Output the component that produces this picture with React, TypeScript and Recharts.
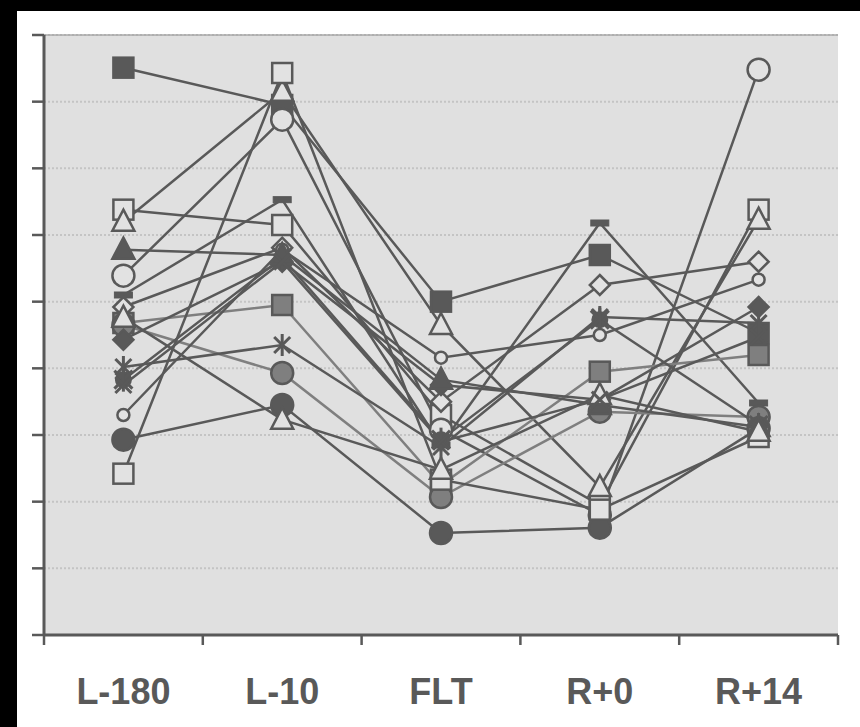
import React from 'react';
import { LineChart, Line, XAxis, YAxis, CartesianGrid, ReferenceLine } from 'recharts';

const CATEGORIES = ['L-180', 'L-10', 'FLT', 'R+0', 'R+14'];
const Y_TICKS = [0, 1, 2, 3, 4, 5, 6, 7, 8, 9];
const X_BOUNDS = [-0.5, 0.5, 1.5, 2.5, 3.5, 4.5];

// one array per subject, values at L-180, L-10, FLT, R+0, R+14
const S01 = [8.51, 7.95, 5.0, 5.7, 4.53];
const S02 = [6.38, 6.15, 3.3, 1.95, 6.38];
const S03 = [6.2, 8.15, 4.65, 2.22, 6.23];
const S04 = [5.39, 7.73, 3.08, 1.8, 8.48];
const S05 = [5.1, 6.53, 2.85, 6.18, 3.48];
const S06 = [4.92, 5.81, 3.5, 5.25, 5.6];
const S07 = [4.68, 4.95, 2.25, 3.95, 4.2];
const S08 = [4.65, 3.93, 2.07, 3.35, 3.27];
const S09 = [4.43, 5.6, 3.75, 3.53, 4.92];
const S10 = [4.02, 4.35, 2.82, 4.77, 4.68];
const S11 = [3.83, 5.66, 2.93, 4.73, 3.15];
const S12 = [3.3, 5.78, 4.16, 4.5, 5.33];
const S13 = [2.93, 3.45, 1.53, 1.61, 3.1];
const S14 = [2.42, 8.43, 2.33, 1.88, 2.97];
const S15 = [5.78, 5.7, 3.83, 3.45, 3.12];
const S16 = [4.76, 3.23, 2.48, 3.6, 3.05];
const S17 = [3.75, 5.6, 2.9, 3.53, 4.47];

const DARK = '#595959';
const GREY = '#7f7f7f';
const OPEN = '#e2e2e2';

const SERIES = [
  { key: 's01', values: S01, shape: 'square', fill: DARK, line: DARK },
  { key: 's02', values: S02, shape: 'square', fill: OPEN, line: DARK },
  { key: 's03', values: S03, shape: 'triangle', fill: OPEN, line: DARK },
  { key: 's04', values: S04, shape: 'circle', fill: OPEN, line: DARK },
  { key: 's05', values: S05, shape: 'dash', fill: DARK, line: DARK },
  { key: 's06', values: S06, shape: 'diamond', fill: OPEN, line: DARK },
  { key: 's07', values: S07, shape: 'square', fill: GREY, line: GREY },
  { key: 's08', values: S08, shape: 'circle', fill: GREY, line: GREY },
  { key: 's09', values: S09, shape: 'diamond', fill: DARK, line: DARK },
  { key: 's10', values: S10, shape: 'star', fill: DARK, line: DARK },
  { key: 's11', values: S11, shape: 'burst', fill: DARK, line: DARK },
  { key: 's12', values: S12, shape: 'smallCircle', fill: OPEN, line: DARK },
  { key: 's13', values: S13, shape: 'circle', fill: DARK, line: DARK },
  { key: 's14', values: S14, shape: 'square', fill: OPEN, line: DARK },
  { key: 's15', values: S15, shape: 'triangle', fill: DARK, line: DARK },
  { key: 's16', values: S16, shape: 'triangle', fill: OPEN, line: DARK },
  { key: 's17', values: S17, shape: 'x', fill: DARK, line: DARK },
];

const data = CATEGORIES.map((c, i) => {
  const row: any = { x: i, name: c };
  SERIES.forEach(s => { row[s.key] = s.values[i]; });
  return row;
});

const Marker = ({ cx, cy, shape, fill }: any) => {
  if (cx == null || cy == null) return null;
  const st = { stroke: DARK, strokeWidth: 2.5 };
  switch (shape) {
    case 'square':
      return <rect x={cx - 10} y={cy - 10} width={20} height={20} fill={fill} {...st} />;
    case 'triangle':
      return <polygon points={`${cx},${cy - 12} ${cx + 11},${cy + 9} ${cx - 11},${cy + 9}`} fill={fill} {...st} />;
    case 'circle':
      return <circle cx={cx} cy={cy} r={11} fill={fill} {...st} />;
    case 'smallCircle':
      return <circle cx={cx} cy={cy} r={6} fill={fill} {...st} />;
    case 'diamond':
      return <polygon points={`${cx},${cy - 10} ${cx + 10},${cy} ${cx},${cy + 10} ${cx - 10},${cy}`} fill={fill} {...st} />;
    case 'dash':
      return <rect x={cx - 9} y={cy - 3} width={18} height={6} fill={fill} {...st} strokeWidth={1} />;
    case 'x':
      return (
        <g {...st} strokeWidth={3}>
          <line x1={cx - 8} y1={cy - 8} x2={cx + 8} y2={cy + 8} />
          <line x1={cx - 8} y1={cy + 8} x2={cx + 8} y2={cy - 8} />
        </g>
      );
    case 'star':
      return (
        <g {...st} strokeWidth={3}>
          <line x1={cx - 8} y1={cy - 8} x2={cx + 8} y2={cy + 8} />
          <line x1={cx - 8} y1={cy + 8} x2={cx + 8} y2={cy - 8} />
          <line x1={cx} y1={cy - 11} x2={cx} y2={cy + 11} />
        </g>
      );
    case 'burst':
      return (
        <g {...st} strokeWidth={3}>
          <circle cx={cx} cy={cy} r={7} fill={DARK} />
          <line x1={cx - 9} y1={cy - 9} x2={cx + 9} y2={cy + 9} />
          <line x1={cx - 9} y1={cy + 9} x2={cx + 9} y2={cy - 9} />
          <line x1={cx} y1={cy - 12} x2={cx} y2={cy + 12} />
        </g>
      );
    default:
      return null;
  }
};

const CategoryTick = ({ x, payload }: any) => (
  <text x={x} y={704} textAnchor="middle" fill={DARK}
    style={{ fontFamily: 'Liberation Sans, Arial, sans-serif', fontSize: 36, fontWeight: 'bold' }}>
    {CATEGORIES[payload.value]}
  </text>
);

const App: React.FC = () => {
  return (
    <div style={{ position: 'absolute', left: 0, top: 0, width: 860, height: 727, background: '#fff', overflow: 'hidden' }}>
      <div style={{ position: 'absolute', left: 0, top: 0, width: 860, height: 11, background: '#000' }} />
      <div style={{ position: 'absolute', left: 0, top: 0, width: 17, height: 727, background: '#000' }} />
      <div style={{ position: 'absolute', left: 0, top: 0 }}>
        <LineChart width={860} height={727} data={data} margin={{ top: 35, right: 22, bottom: 0, left: 24 }}>
          <CartesianGrid vertical={false} fill="#e0e0e0" stroke="#c4c4c4" strokeDasharray="2 2" strokeWidth={2} />
          <ReferenceLine y={9} stroke="#a8a8a8" strokeWidth={1.5} />
          <ReferenceLine x={4.5} stroke="#a8a8a8" strokeWidth={2} />
          <XAxis xAxisId="bounds" dataKey="x" type="number" domain={[-0.5, 4.5]} ticks={X_BOUNDS}
            height={12} tickSize={10} tickFormatter={() => ''}
            axisLine={{ stroke: DARK, strokeWidth: 3 }} tickLine={{ stroke: DARK, strokeWidth: 2.5 }} />
          <XAxis xAxisId="labels" dataKey="x" type="number" domain={[-0.5, 4.5]} ticks={[0, 1, 2, 3, 4]}
            height={80} axisLine={false} tickLine={false} tick={<CategoryTick />} />
          <YAxis domain={[0, 9]} ticks={Y_TICKS} width={20} tickSize={12} tickFormatter={() => ''}
            axisLine={{ stroke: DARK, strokeWidth: 3 }} tickLine={{ stroke: DARK, strokeWidth: 2.5 }} />
          {SERIES.map(s => (
            <Line key={s.key} xAxisId="labels" dataKey={s.key} type="linear" stroke={s.line} strokeWidth={2.5}
              isAnimationActive={false}
              dot={(p: any) => <Marker key={`${s.key}-${p.index}`} cx={p.cx} cy={p.cy} shape={s.shape} fill={s.fill} />}
              activeDot={false} />
          ))}
        </LineChart>
      </div>
    </div>
  );
};

export default App;
